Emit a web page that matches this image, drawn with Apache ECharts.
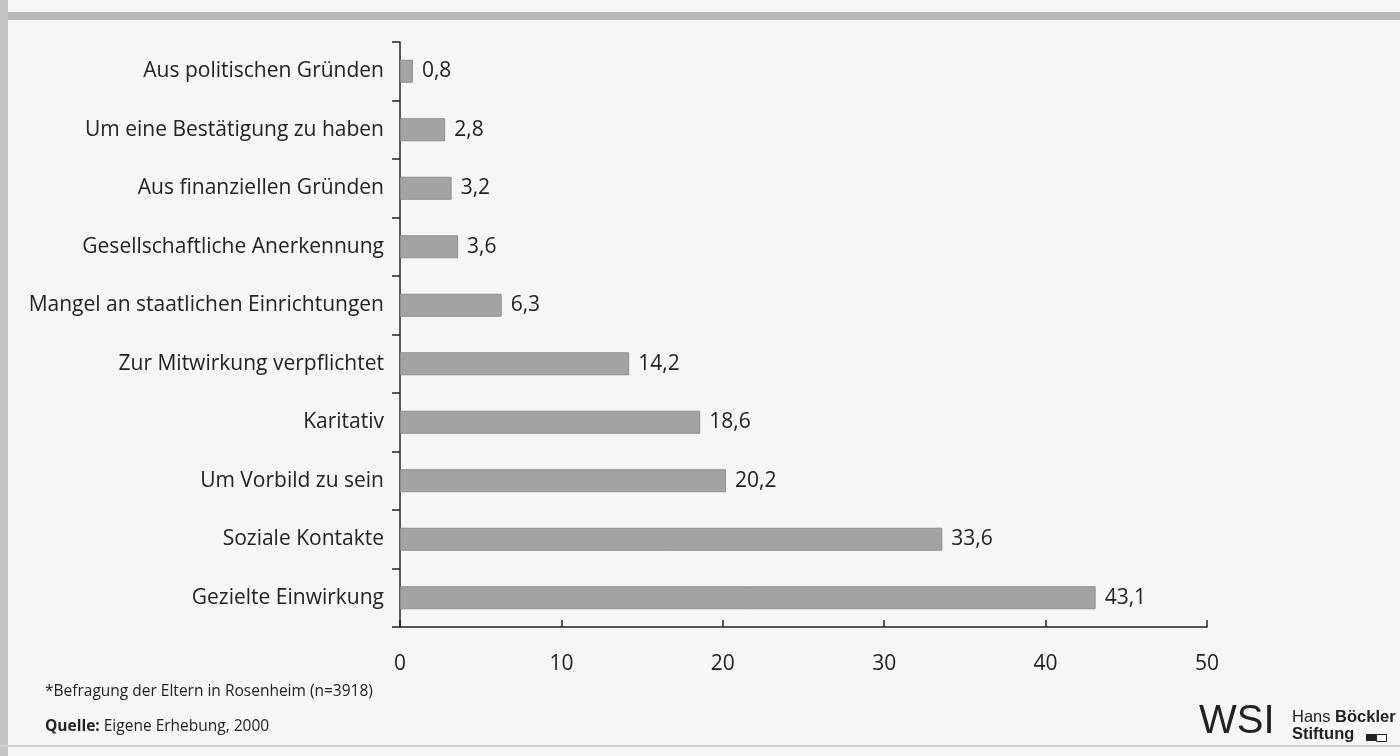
<!DOCTYPE html>
<html>
<head>
<meta charset="utf-8">
<script src="https://cdn.jsdelivr.net/npm/echarts@6/dist/echarts.min.js"></script>
<style>
  html, body { margin: 0; padding: 0; background: #f6f6f6; }
  #chart { width: 1400px; height: 756px; }
</style>
</head>
<body>
<div id="chart"></div>
<script>
// Gründe für die Mitwirkung (Prozent)
var categories = [
    "Aus politischen Gründen",
    "Um eine Bestätigung zu haben",
    "Aus finanziellen Gründen",
    "Gesellschaftliche Anerkennung",
    "Mangel an staatlichen Einrichtungen",
    "Zur Mitwirkung verpflichtet",
    "Karitativ",
    "Um Vorbild zu sein",
    "Soziale Kontakte",
    "Gezielte Einwirkung"
];
var values = [0.8, 2.8, 3.2, 3.6, 6.3, 14.2, 18.6, 20.2, 33.6, 43.1];
var xTicks = [0, 10, 20, 30, 40, 50];

var chart = echarts.init(document.getElementById("chart"));
var font = "'Open Sans', 'Noto Sans', sans-serif";

var option = {
    backgroundColor: "#f6f6f6",
    animation: false,
    grid: {
        left: 400,
        right: 193,
        top: 42,
        bottom: 129,
        containLabel: false
    },
    xAxis: {
        type: "value",
        min: xTicks[0],
        max: xTicks[xTicks.length - 1],
        interval: 10,
        axisLine: { show: true, lineStyle: { color: "#222", width: 1.5 } },
        axisTick: { show: true, inside: true, length: 7, lineStyle: { color: "#222", width: 1.5 } },
        axisLabel: {
            color: "#222",
            fontSize: 21,
            fontFamily: font,
            margin: 27,
            formatter: function (v) { return xTicks.indexOf(v) >= 0 ? String(v) : ""; }
        },
        splitLine: { show: false }
    },
    yAxis: {
        type: "category",
        inverse: true,
        data: categories,
        axisLine: { show: true, lineStyle: { color: "#222", width: 1.5 } },
        axisTick: { show: true, length: 8, lineStyle: { color: "#222", width: 1.5 } },
        axisLabel: {
            color: "#222",
            fontSize: 21,
            fontFamily: font,
            margin: 16
        }
    },
    series: [{
        type: "bar",
        data: values,
        barWidth: 23,
        itemStyle: {
            color: "#a3a3a3",
            borderColor: "#8e8e8e",
            borderWidth: 1
        },
        label: {
            show: true,
            position: "right",
            distance: 9,
            color: "#222",
            fontSize: 21,
            fontFamily: font,
            formatter: function (p) { return String(p.value).replace(".", ","); }
        }
    }],
    graphic: [
        { type: "rect", left: 0, top: 12, shape: { width: 1400, height: 8 }, style: { fill: "#b9b9b9" } },
        { type: "rect", left: 0, top: 0, shape: { width: 8, height: 756 }, style: { fill: "#c4c4c4" } },
        { type: "rect", left: 0, top: 745, shape: { width: 1400, height: 2 }, style: { fill: "#cfcfcf" } },
        {
            type: "text", left: 45, top: 684,
            style: { text: "*Befragung der Eltern in Rosenheim (n=3918)", fill: "#222", font: "15.5px " + font }
        },
        {
            type: "text", left: 45, top: 719,
            style: {
                text: "{b|Quelle:} Eigene Erhebung, 2000",
                fill: "#222",
                font: "15.5px " + font,
                rich: { b: { fontWeight: "bold", fontSize: 15.5, fontFamily: font, fill: "#222" } }
            }
        },
        {
            type: "text", left: 1199, top: 702,
            style: { text: "WSI", fill: "#222", font: "40px 'Liberation Sans', sans-serif" }
        },
        {
            type: "text", left: 1292, top: 709,
            style: {
                text: "Hans {b|Böckler}",
                fill: "#222",
                font: "16.5px 'Liberation Sans', sans-serif",
                rich: { b: { fontWeight: "bold", fontSize: 16.5, fontFamily: "'Liberation Sans', sans-serif", fill: "#222" } }
            }
        },
        {
            type: "text", left: 1292, top: 726,
            style: { text: "Stiftung", fill: "#222", font: "bold 16.5px 'Liberation Sans', sans-serif" }
        },
        { type: "rect", left: 1366, top: 734, shape: { width: 10, height: 7 }, style: { fill: "#222" } },
        { type: "rect", left: 1376, top: 734, shape: { width: 10, height: 7 }, style: { fill: "#fff", stroke: "#222", lineWidth: 1 } }
    ]
};

chart.setOption(option);
window.onresize = function () {
    chart.resize();
};
</script>
</body>
</html>
